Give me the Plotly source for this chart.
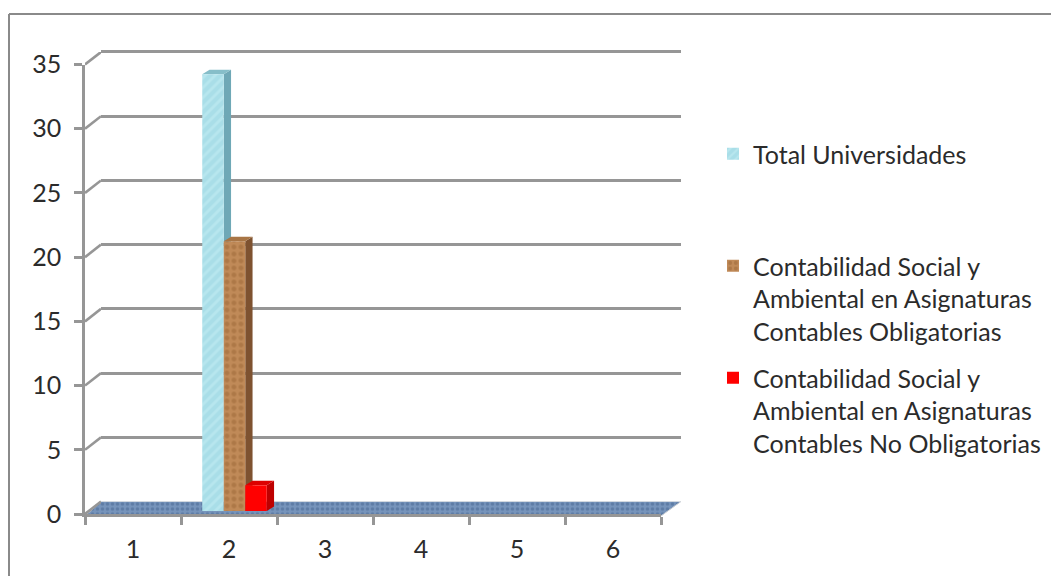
import plotly.graph_objects as go

categories = [1, 2, 3, 4, 5, 6]
y_ticks = [0, 5, 10, 15, 20, 25, 30, 35]
total = [0, 34, 0, 0, 0, 0]
obligatorias = [0, 21, 0, 0, 0, 0]
no_obligatorias = [0, 2, 0, 0, 0, 0]

names = [
    "Total Universidades",
    "Contabilidad Social y<br>Ambiental en Asignaturas<br>Contables Obligatorias",
    "Contabilidad Social y<br>Ambiental en Asignaturas<br>Contables No Obligatorias",
]
front = ["#A9DEE8", "#C08A58", "#FF0000"]
pattern_fg = ["#C6EEF3", "#9A6536", "#FF0000"]
side = ["#6FA8B6", "#7E5230", "#BE0000"]
top = ["#86BEC9", "#A87545", "#DC0000"]
series = [total, obligatorias, no_obligatorias]

W, H = 1051, 576
FONT = "Lato"
INK = "#2b2b2b"
GREY = "#969696"
TXT = 25
LINE_W = 2.6

L, R, B, T = 85, 661, 514, 64.5
PX_X = (R - L) / 6
PX_Y = (B - T) / 35


def dom_x(dx, extra=0):
    return [(L + dx) / W, (R + dx + extra) / W]


def dom_y(dy):
    return [1 - (B + dy) / H, 1 - (T + dy) / H]


BAR_W = 0.224
DEPTH_X = 7.3 / PX_X
DEPTH_Y = 4.5 / PX_Y
XR = [0.5, 6.5]
YR = [0, 35]
WALL_YR = [0, 36]
FLOOR_DX, FLOOR_RIGHT, FLOOR_DY = 16, 20, 12.5

fig = go.Figure()

# Keeps the back wall's subplot alive
fig.add_trace(go.Scatter(x=[None], y=[None], xaxis="x", yaxis="y", showlegend=False, hoverinfo="skip"))

# Floor: its own subplot, wide enough that the fill is not clipped
floor_xr = [0.5, 6.5 + FLOOR_RIGHT / PX_X]
floor_yr = [-0.15, FLOOR_DY / PX_Y]
fig.add_trace(go.Scatter(
    x=[floor_xr[0], 6.5, floor_xr[1], 0.5 + FLOOR_DX / PX_X, floor_xr[0]],
    y=[floor_yr[0], floor_yr[0], floor_yr[1], floor_yr[1], floor_yr[0]],
    mode="lines", fill="toself", xaxis="x2", yaxis="y2",
    line=dict(color="#C9CDD2", width=1), fillcolor="#7090B8",
    fillpattern=dict(shape=".", fgcolor="#45648F", bgcolor="#7694BB", size=5, solidity=0.4),
    hoverinfo="skip", showlegend=False, cliponaxis=False,
))

# Front plane carrier
fig.add_trace(go.Scatter(x=[None], y=[None], xaxis="x3", yaxis="y3", showlegend=False, hoverinfo="skip"))

# Depth faces come from the values
for i, vals in enumerate(series):
    for c, v in zip(categories, vals):
        if v <= 0:
            continue
        x0 = c + (i - 1.5) * BAR_W
        x1 = x0 + BAR_W
        fig.add_trace(go.Scatter(
            x=[x1, x1 + DEPTH_X, x1 + DEPTH_X, x1, x1], y=[0, DEPTH_Y, v + DEPTH_Y, v, 0],
            mode="lines", fill="toself", fillcolor=side[i], line=dict(width=0, color=side[i]),
            xaxis="x4", yaxis="y4", hoverinfo="skip", showlegend=False, cliponaxis=False,
        ))
        fig.add_trace(go.Scatter(
            x=[x0, x1, x1 + DEPTH_X, x0 + DEPTH_X, x0], y=[v, v, v + DEPTH_Y, v + DEPTH_Y, v],
            mode="lines", fill="toself", fillcolor=top[i], line=dict(width=0, color=top[i]),
            xaxis="x4", yaxis="y4", hoverinfo="skip", showlegend=False, cliponaxis=False,
        ))

# Front faces
legend_ids = ["legend", "legend2", "legend3"]
for i, vals in enumerate(series):
    fig.add_trace(go.Bar(
        x=categories, y=vals, name=names[i], xaxis="x5", yaxis="y5",
        width=BAR_W, offset=(i - 1.5) * BAR_W, legend=legend_ids[i],
        marker=dict(
            color=front[i], line=dict(width=0),
            pattern=dict(shape="" if i == 2 else ("/" if i == 0 else "."),
                         fgcolor=pattern_fg[i], bgcolor=front[i], size=7, solidity=0.4),
        ),
    ))

# Drives the category labels
fig.add_trace(go.Scatter(x=[None], y=[None], xaxis="x6", yaxis="y6", showlegend=False, hoverinfo="skip"))

# Slanted joins from the front axis to the back wall, in a subplot of their own
join_xr = [0.5, 0.5 + FLOOR_DX / PX_X]
join_yr = [0, 35 + FLOOR_DY / PX_Y]
jx, jy = [], []
for v in y_ticks:
    jx += [join_xr[0], join_xr[1], None]
    jy += [v, v + FLOOR_DY / PX_Y, None]
fig.add_trace(go.Scatter(
    x=jx, y=jy, mode="lines", xaxis="x7", yaxis="y7",
    line=dict(color=GREY, width=LINE_W), hoverinfo="skip", showlegend=False, cliponaxis=False,
))

hidden = dict(visible=False, fixedrange=True)
BAR_DX, BAR_DY = 5.5, -3

legend_base = dict(
    bgcolor="rgba(0,0,0,0)", borderwidth=0, xanchor="left", yanchor="top", valign="top",
    itemwidth=30, font=dict(family=FONT, size=TXT, color=INK), x=713 / W,
    itemclick=False, itemdoubleclick=False,
)

fig.update_layout(
    width=W, height=H, margin=dict(l=0, r=0, t=0, b=0, pad=0, autoexpand=False),
    paper_bgcolor="white", plot_bgcolor="rgba(0,0,0,0)",
    barmode="overlay", hovermode=False,
    font=dict(family=FONT, size=TXT, color=INK),
    # Back wall, running a little past the top grid line so that it is kept
    xaxis=dict(domain=dom_x(FLOOR_DX, FLOOR_RIGHT - FLOOR_DX), range=XR, anchor="y", visible=False, fixedrange=True),
    yaxis=dict(domain=[1 - (B - FLOOR_DY) / H, 1 - (B - FLOOR_DY - WALL_YR[1] * PX_Y) / H],
               range=WALL_YR, anchor="x", tickvals=y_ticks, showgrid=True,
               gridcolor=GREY, gridwidth=LINE_W, zeroline=False, showline=False,
               showticklabels=False, ticks="", fixedrange=True),
    # Floor
    xaxis2=dict(domain=dom_x(0, FLOOR_RIGHT), range=floor_xr, anchor="y2", **hidden),
    yaxis2=dict(domain=[1 - (B + 0.15 * PX_Y) / H, 1 - (B - FLOOR_DY) / H], range=floor_yr, anchor="x2", **hidden),
    # Front plane
    xaxis3=dict(domain=dom_x(0), range=XR, anchor="y3", showline=True, linecolor=GREY, linewidth=LINE_W,
                ticks="outside", ticklen=8, tickwidth=LINE_W, tickcolor=GREY,
                tickvals=[0.5, 1.5, 2.5, 3.5, 4.5, 5.5, 6.5], showticklabels=False,
                showgrid=False, zeroline=False, fixedrange=True),
    yaxis3=dict(domain=dom_y(0), range=YR, anchor="x3", showline=True, linecolor=GREY, linewidth=LINE_W,
                ticks="outside", ticklen=8, tickwidth=LINE_W, tickcolor=GREY, tickvals=y_ticks,
                showgrid=False, zeroline=False, tickfont=dict(family=FONT, size=TXT, color=INK),
                ticklabelstandoff=8, fixedrange=True),
    # Depth faces
    xaxis4=dict(domain=dom_x(BAR_DX), range=XR, anchor="y4", **hidden),
    yaxis4=dict(domain=dom_y(BAR_DY), range=YR, anchor="x4", **hidden),
    # Bars
    xaxis5=dict(domain=dom_x(BAR_DX), range=XR, anchor="y5", **hidden),
    yaxis5=dict(domain=dom_y(BAR_DY), range=YR, anchor="x5", **hidden),
    # Category labels
    xaxis6=dict(domain=dom_x(0), range=XR, anchor="y6", tickvals=categories, ticks="",
                showline=False, showgrid=False, zeroline=False,
                tickfont=dict(family=FONT, size=TXT, color=INK), ticklabelstandoff=18, fixedrange=True),
    yaxis6=dict(domain=dom_y(0), range=YR, anchor="x6", **hidden),
    # Joins
    xaxis7=dict(domain=[L / W, (L + FLOOR_DX) / W], range=join_xr, anchor="y7", **hidden),
    yaxis7=dict(domain=[1 - B / H, 1 - (T - FLOOR_DY) / H], range=join_yr, anchor="x7", **hidden),
    legend=dict(legend_base, y=1 - 131 / H),
    legend2=dict(legend_base, y=1 - 243 / H),
    legend3=dict(legend_base, y=1 - 355 / H),
    showlegend=True,
    shapes=[
        dict(type="line", xref="paper", yref="paper", x0=9 / W, x1=1, y0=1 - 14 / H, y1=1 - 14 / H,
             line=dict(color="#8A8A8A", width=2)),
        dict(type="line", xref="paper", yref="paper", x0=9 / W, x1=9 / W, y0=0, y1=1 - 14 / H,
             line=dict(color="#8A8A8A", width=2)),
    ],
)

fig.write_html("out.html", config=dict(displayModeBar=False),
               post_script="document.body.style.margin='0';document.body.style.overflow='hidden';")
